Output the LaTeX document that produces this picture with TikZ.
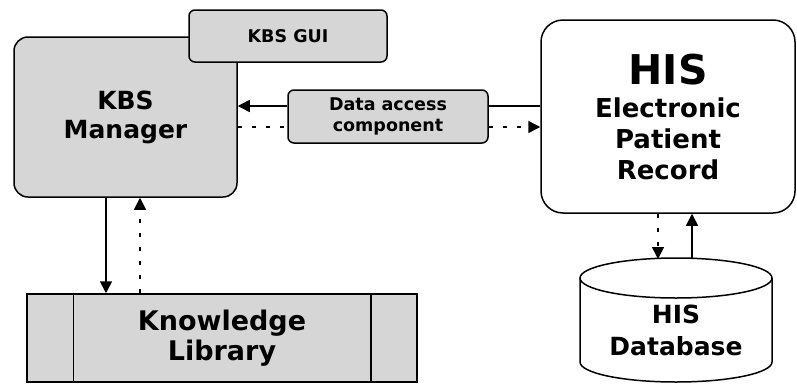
\documentclass[tikz,border=0pt]{standalone}
\usepackage{fontspec}
\setmainfont{DejaVu Sans}
\usetikzlibrary{arrows.meta,calc}
\definecolor{boxgray}{gray}{0.84}
\tikzset{
  box/.style={draw=black, line width=1.5pt, fill=boxgray, rounded corners=14pt, align=center, inner sep=0pt},
  smallbox/.style={box, rounded corners=6pt},
  conn/.style={line width=1.5pt, draw=black},
  dotconn/.style={conn, dash pattern=on 4pt off 10pt},
  tip/.style={-{Triangle[length=12pt,width=12pt]}}
}
\begin{document}
\begin{tikzpicture}[x=1pt,y=-1pt]
\useasboundingbox (0,0) rectangle (797,383);
% KBS Manager
\node[box, minimum width=223pt, minimum height=160pt, font=\bfseries\fontsize{25}{29}\selectfont] (kbs) at (125.5,117)
  {KBS\\Manager};
% KBS GUI
\node[smallbox, minimum width=198pt, minimum height=52pt, font=\bfseries\fontsize{17.5}{20}\selectfont] (gui) at (288,36)
  {KBS GUI};
% Data access component
\node[smallbox, minimum width=200pt, minimum height=53pt, font=\bfseries\fontsize{17.5}{21}\selectfont] (dac) at (388,116.5)
  {Data access\\component};
% HIS EPR
\node[box, fill=white, rounded corners=22pt, minimum width=254pt, minimum height=193pt, font=\bfseries\fontsize{26}{31}\selectfont] (his) at (668,116.5)
  {{\fontsize{41}{44}\selectfont HIS}\\[2pt]Electronic\\Patient\\Record};
% Knowledge Library
\node[box, rounded corners=0pt, minimum width=390pt, minimum height=88pt, font=\bfseries\fontsize{27}{30}\selectfont] (kl) at (222,338)
  {Knowledge\\Library};
\draw[line width=1.5pt] ([xshift=47pt]kl.north west) -- ([xshift=47pt]kl.south west);
\draw[line width=1.5pt] ([xshift=-47pt]kl.north east) -- ([xshift=-47pt]kl.south east);
% HIS Database cylinder
\draw[line width=1.5pt, fill=white] (580,278) -- (580,362) arc[start angle=180, end angle=360, x radius=96pt, y radius=20pt] -- (772,278);
\draw[line width=1.5pt, fill=white] (676,278) ellipse[x radius=96pt, y radius=20pt];
\node[align=center, inner sep=0pt, minimum width=192pt, minimum height=124pt, font=\bfseries\fontsize{25}{32}\selectfont] (db) at (676,330)
  {HIS\\Database};
\coordinate (dbtopA) at (658,259);
\coordinate (dbtopB) at (692,258);
% connectors
\draw[conn, tip] ([yshift=10.5pt]dac.west) -- ([yshift=10.5pt]kbs.east |- dac.west);
\draw[dotconn] ([yshift=-10.5pt]kbs.east |- dac.west) -- ([yshift=-10.5pt]dac.west);
\draw[conn] ([yshift=10.5pt]dac.east) -- ([yshift=10.5pt]his.west |- dac.east);
\draw[dotconn, tip] ([yshift=-10.5pt]dac.east) -- ([yshift=-10.5pt]his.west |- dac.east);
\draw[conn, tip] ([xshift=-19.5pt]kbs.south) -- ([xshift=-116pt]kl.north);
\draw[dotconn, tip] ([xshift=-82pt]kl.north) -- ([xshift=14.5pt]kbs.south);
\draw[dotconn, tip] ([xshift=-10pt]his.south) -- (dbtopA);
\draw[conn, tip] (dbtopB) -- ([xshift=24pt]his.south);
\end{tikzpicture}
\end{document}
